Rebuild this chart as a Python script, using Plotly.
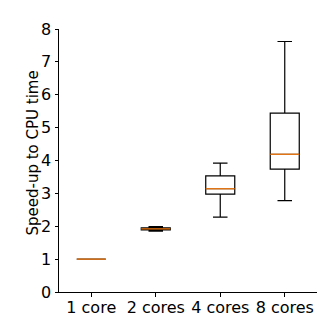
import plotly.graph_objects as go

labels = ["1 core", "2 cores", "4 cores", "8 cores"]
positions = [1, 2, 3, 4]
lower = [1.0, 1.85, 2.28, 2.78]
q1 = [1.0, 1.89, 2.98, 3.74]
median = [1.0, 1.92, 3.14, 4.19]
q3 = [1.0, 1.95, 3.53, 5.44]
upper = [1.0, 1.99, 3.92, 7.62]

BOX_W = 0.45
fig = go.Figure()
for i, p in enumerate(positions):
    fig.add_trace(go.Box(
        x=[p], q1=[q1[i]], median=[median[i]], q3=[q3[i]],
        lowerfence=[lower[i]], upperfence=[upper[i]],
        width=BOX_W, whiskerwidth=0.5,
        line=dict(color="black", width=1.2), fillcolor="rgba(255,255,255,0)",
        boxpoints=False, showlegend=False, hoverinfo="skip"))

mx, my = [], []
for p, m in zip(positions, median):
    mx += [p - BOX_W / 2, p + BOX_W / 2, None]
    my += [m, m, None]
fig.add_trace(go.Scatter(x=mx, y=my, mode="lines",
                         line=dict(color="#ff7f0e", width=1.2),
                         showlegend=False, hoverinfo="skip"))

font = dict(family="DejaVu Sans", size=16, color="black")
fig.update_layout(
    width=323, height=323,
    margin=dict(l=51, r=14, t=17, b=39),
    paper_bgcolor="white", plot_bgcolor="white",
    font=font,
    xaxis=dict(range=[0.5, 4.5], tickvals=positions, ticktext=labels,
               showgrid=False, zeroline=False, showline=True,
               linecolor="black", linewidth=1, ticks="outside",
               ticklen=3.5, tickcolor="black", tickfont=font,
               ticklabelstandoff=-3),
    yaxis=dict(range=[0, 8], tickvals=list(range(9)),
               showgrid=False, zeroline=False, showline=True,
               linecolor="black", linewidth=1, ticks="outside",
               ticklen=3.5, tickcolor="black", tickfont=font),
    annotations=[dict(text="Speed-up to CPU time", textangle=-90,
                      xref="paper", yref="paper", x=0, y=0.5,
                      xanchor="center", yanchor="middle",
                      xshift=-27, yshift=7, showarrow=False,
                      font=dict(family="DejaVu Sans", size=15, color="black"))],
)
fig.write_html("out.html")
